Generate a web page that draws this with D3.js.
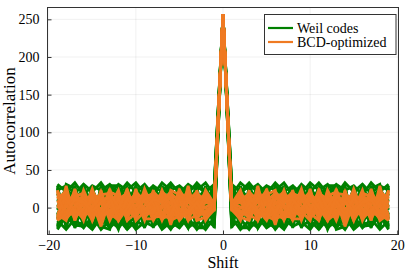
<!DOCTYPE html>
<html><head><meta charset="utf-8">
<script src="https://cdn.jsdelivr.net/npm/d3@7"></script>
<style>body{margin:0;background:#fff}svg{display:block}text{font-family:"Liberation Serif","Times New Roman",serif;fill:#000}</style>
</head><body><svg id="c" width="407" height="271"></svg>
<script>
// Shift axis (categories)
const shifts = [-19,-18,-17,-16,-15,-14,-13,-12,-11,-10,-9,-8,-7,-6,-5,-4,-3,-2,-1,0,1,2,3,4,5,6,7,8,9,10,11,12,13,14,15,16,17,18,19];
// Weil codes autocorrelation (estimated)
const weil1  = [31,21,33,17,29,23,31,19,33,21,31,17,33,23,29,19,33,21,31,257,31,21,33,19,29,23,33,17,31,21,33,19,31,23,29,17,33,21,31];
const weil2  = [23,29,19,31,21,33,17,31,23,33,19,29,21,33,19,31,23,33,17,257,17,33,23,31,19,33,21,29,19,33,23,31,17,33,21,31,19,29,23];
const weil3  = [-29,-11,-25,-19,-29,-13,-27,-15,-29,-17,-25,-11,-29,-19,-27,-13,-29,-15,-25,257,-25,-15,-29,-13,-27,-19,-29,-11,-25,-17,-29,-15,-27,-13,-29,-19,-25,-11,-29];
const weil4  = [-17,-29,-15,-27,-11,-29,-17,-27,-13,-29,-19,-25,-15,-29,-11,-27,-17,-29,-13,257,-13,-29,-17,-27,-11,-29,-15,-25,-19,-29,-13,-27,-17,-29,-11,-27,-15,-29,-17];
const weil5  = [27,-17,23,5,-19,27,9,-21,25,3,-15,27,11,-23,-9,25,-21,5,27,257,27,5,-21,25,-9,-23,11,27,-15,3,25,-21,9,27,-19,5,23,-17,27];
const weil6  = [-3,27,7,-23,25,-7,27,17,-23,-11,27,13,-19,3,27,-23,11,25,-9,257,-9,25,11,-23,27,3,-19,13,27,-11,-23,17,27,-7,25,-23,7,27,-3];
const weil7  = [19,-21,-5,27,-21,-1,25,-23,9,25,1,-21,27,17,-21,5,27,-23,9,257,9,-23,27,5,-21,17,27,-21,1,25,9,-23,25,-1,-21,27,-5,-21,19];
const weil8  = [-23,9,27,-3,11,-23,-13,27,15,-23,23,-9,3,-25,13,27,-5,9,-21,257,-21,9,-5,27,13,-25,3,-9,23,-23,15,27,-13,-23,11,-3,27,9,-23];
const weil9  = [1,25,-21,19,-25,13,23,5,-19,13,-23,23,-11,11,25,-21,7,-17,25,257,25,-17,7,-21,25,11,-11,23,-23,13,-19,5,23,13,-25,19,-21,25,1];
const weil10 = [13,3,-11,25,3,17,-21,-11,-3,27,11,5,-25,27,-3,9,-25,27,3,257,3,27,-25,9,-3,27,-25,5,11,27,-3,-11,-21,17,3,25,-11,3,13];
const weil11 = [25,-25,13,-13,27,-17,-1,9,21,-19,-7,-15,25,-13,21,-11,15,-3,-17,257,-17,-3,15,-11,21,-13,25,-15,-7,-19,21,9,-1,-17,27,-13,13,-25,25];
const weil12 = [-11,15,-27,9,-15,3,-25,23,-5,7,-27,19,-3,7,-23,13,-11,15,1,257,1,15,-11,13,-23,7,-3,19,-27,7,-5,23,-25,3,-15,9,-27,15,-11];
const weil13 = [-25,1,29,-15,7,-9,19,-27,11,-5,29,-17,5,19,-27,15,-1,-9,21,257,21,-9,-1,15,-27,19,5,-17,29,-5,11,-27,19,-9,7,-15,29,1,-25];
const weil14 = [11,-9,-19,-7,19,-27,13,-1,-25,19,-13,11,-27,-9,23,1,-13,29,-19,257,-19,29,-13,1,23,-9,-27,11,-13,19,-25,-1,13,-27,19,-7,-19,-9,11];
const weil15 = [-27,11,-3,31,-5,21,-11,-5,29,-27,7,-3,15,29,-5,-27,19,-25,11,257,11,-25,19,-27,-5,29,15,-3,7,-27,29,-5,-11,21,-5,31,-3,11,-27];
const weil16 = [29,-27,17,-17,-27,-3,5,25,-9,11,-9,29,-23,-21,5,23,29,19,-5,257,-5,19,29,23,5,-21,-23,29,-9,11,-9,25,5,-3,-27,-17,17,-27,29];
const weil17 = [-9,19,-23,-25,13,9,29,29,-21,-21,17,-27,27,21,15,-5,-19,7,29,257,29,7,-19,-5,15,21,27,-27,17,-21,-21,29,29,9,13,-25,-23,19,-9];
const weil18 = [5,-3,1,29,-23,25,-3,-29,5,29,-17,1,-7,-27,-19,29,3,13,-27,257,-27,13,3,29,-19,-27,-7,1,-17,29,5,-29,-3,25,-23,29,1,-3,5];
const weil19 = [-15,31,25,-9,29,-25,-29,13,27,-1,29,-25,29,1,9,-19,-27,-27,15,257,15,-27,-27,-19,9,1,29,-25,29,-1,27,13,-29,-25,29,-9,25,31,-15];
const weil20 = [-21,-13,-15,7,-29,29,15,1,-29,17,-1,-19,-9,-15,29,-1,29,21,-23,257,-23,21,29,-1,29,-15,-9,-19,-1,17,-29,1,15,29,-29,7,-15,-13,-21];
// BCD-optimized autocorrelation (estimated)
const bcd1  = [-15,29,-17,21,-13,23,-15,21,-17,25,-15,23,-13,21,-17,29,-15,23,5,257,5,23,-15,29,-17,21,-13,23,-15,25,-17,21,-15,23,-13,21,-17,29,-15];
const bcd2  = [23,-13,25,-15,23,-17,25,-13,21,-15,23,-17,21,-13,25,-15,23,-17,1,257,1,-17,23,-15,25,-13,21,-17,23,-15,21,-13,25,-17,23,-15,25,-13,23];
const bcd3  = [21,-5,-11,17,7,-25,11,-17,5,19,-11,3,17,-23,13,-17,-9,19,-3,257,-3,19,-9,-17,13,-23,17,3,-11,19,5,-17,11,-25,7,17,-11,-5,21];
const bcd4  = [-9,-17,21,3,-17,15,1,23,-17,-7,19,-15,-1,17,-15,9,21,-13,3,257,3,-13,21,9,-15,17,-1,-15,19,-7,-17,23,1,15,-17,3,21,-17,-9];
const bcd5  = [-17,13,9,-17,21,5,-13,-9,25,-17,-5,13,-17,9,3,23,-17,11,7,257,7,11,-17,23,3,9,-17,13,-5,-17,25,-9,-13,5,21,-17,9,13,-17];
const bcd6  = [7,19,-15,23,-3,-11,21,15,-9,3,17,-11,23,-5,21,-13,13,-9,-1,257,-1,-9,13,-13,21,-5,23,-11,17,3,-9,15,21,-11,-3,23,-15,19,7];
const bcd7  = [23,-15,-1,9,-15,19,-7,-17,15,11,-17,21,9,-17,-11,17,1,21,3,257,3,21,1,17,-11,-17,9,21,-17,11,15,-17,-7,19,-15,9,-1,-15,23];
const bcd8  = [-13,5,19,-13,17,13,-17,7,1,-13,25,-3,-15,23,17,1,-13,-5,5,257,5,-5,-13,1,17,23,-15,-3,25,-13,1,7,-17,13,17,-13,19,5,-13];
const bcd9  = [1,23,-17,11,1,-15,17,-3,-11,21,9,-17,5,13,-1,-11,9,15,-1,257,-1,15,9,-11,-1,13,5,-17,9,21,-11,-3,17,-15,1,11,-17,23,1];
const bcd10 = [15,-9,13,-5,25,-9,-5,11,19,-3,-9,9,19,-11,-7,13,17,-15,1,257,1,-15,17,13,-7,-11,19,9,-9,-3,19,11,-5,-9,25,-5,13,-9,15];
const bcd11 = [-5,-11,1,15,-11,-1,7,19,-5,-11,3,17,-7,1,9,-5,-7,7,3,257,3,7,-7,-5,9,1,-7,17,3,-11,-5,19,7,-1,-11,15,1,-11,-5];
const bcd12 = [-1,9,5,-9,-7,9,13,-7,9,7,-1,-9,13,5,-13,19,5,-1,-3,257,-3,-1,5,19,-13,5,13,-9,-1,7,9,-7,13,9,-7,-9,5,9,-1];
const bcd13 = [9,-7,23,-13,19,-17,3,-13,13,-9,21,-13,-11,19,9,-17,11,-11,7,257,7,-11,11,-17,9,19,-11,-13,21,-9,13,-13,3,-17,19,-13,23,-7,9];
const bcd14 = [-11,17,-9,5,-9,21,-11,9,-13,15,-13,-1,15,-7,-13,21,-5,17,-3,257,-3,17,-5,21,-13,-7,15,-1,-13,15,-13,9,-11,21,-9,5,-9,17,-11];
const bcd15 = [19,-13,-3,-15,11,-3,23,-11,5,-15,13,19,-9,-15,23,7,-3,-7,5,257,5,-7,-3,7,23,-15,-9,19,13,-15,5,-11,23,-3,11,-15,-3,-13,19];
const bcd16 = [-13,1,15,19,-17,11,-9,13,-15,23,-15,-15,3,15,-5,-15,19,9,1,257,1,9,19,-15,-5,15,3,-15,-15,23,-15,13,-9,11,-17,19,15,1,-13];
const bcd17 = [13,21,-13,-1,13,-9,9,-15,11,1,21,5,-11,-13,11,13,-17,-13,-1,257,-1,-13,-17,13,11,-13,-11,5,21,1,11,-15,9,-9,13,-1,-13,21,13];
const bcd18 = [-7,-15,3,11,-1,17,19,1,-9,13,-7,-7,21,11,-17,-3,15,13,3,257,3,13,15,-3,-17,11,21,-7,-7,13,-9,1,19,17,-1,11,3,-15,-7];
const bcd19 = [17,11,-5,-11,15,-13,-3,-1,23,-5,11,15,-15,-9,15,11,-1,1,5,257,5,1,-1,11,15,-9,-15,15,11,-5,23,-1,-3,-13,15,-11,-5,11,17];
const bcd20 = [-17,-9,11,7,-5,7,15,-17,-1,17,-3,11,7,21,-9,-7,7,-15,-3,257,-3,-15,7,-7,-9,21,7,11,-3,17,-1,-17,15,7,-5,7,11,-9,-17];

const xTicks = [-20,-10,0,10,20];
const yTicks = [0,50,100,150,200,250];
const seriesNames = ["Weil codes","BCD-optimized"];

const weilSeries = [weil1,weil2,weil3,weil4,weil5,weil6,weil7,weil8,weil9,weil10,weil11,weil12,weil13,weil14,weil15,weil16,weil17,weil18,weil19,weil20];
const bcdSeries = [bcd1,bcd2,bcd3,bcd4,bcd5,bcd6,bcd7,bcd8,bcd9,bcd10,bcd11,bcd12,bcd13,bcd14,bcd15,bcd16,bcd17,bcd18,bcd19,bcd20];
const colors = ["#008000","#ef7a22"];

const svg = d3.select("#c");
const L = 47.5, R = 398.5, T = 7.5, B = 234.5;
const x = d3.scaleLinear().domain([-20.14, 20.14]).range([L, R]);
const y = d3.scaleLinear().domain([-35.7, 265.7]).range([B, T]);

// grid
const g = svg.append("g");
g.selectAll("line.gx").data(xTicks).join("line")
  .attr("x1", d => x(d)).attr("x2", d => x(d)).attr("y1", T).attr("y2", B)
  .attr("stroke", "#000").attr("stroke-opacity", 0.1).attr("stroke-width", 0.6);
g.selectAll("line.gy").data(yTicks).join("line")
  .attr("y1", d => y(d)).attr("y2", d => y(d)).attr("x1", L).attr("x2", R)
  .attr("stroke", "#000").attr("stroke-opacity", 0.1).attr("stroke-width", 0.6);

svg.append("clipPath").attr("id", "clip").append("rect")
  .attr("x", L).attr("y", T).attr("width", R - L).attr("height", B - T);

const line = d3.line().x((d, i) => x(shifts[i])).y(d => y(d));
const plot = svg.append("g").attr("clip-path", "url(#clip)");
[weilSeries, bcdSeries].forEach((set, si) => {
  plot.append("g").selectAll("path").data(set).join("path")
    .attr("d", d => line(d))
    .attr("fill", "none").attr("stroke", colors[si]).attr("stroke-width", 2.8)
    .attr("stroke-linejoin", "miter").attr("stroke-miterlimit", 3);
});

// axes
const xAxis = d3.axisBottom(x).tickValues(xTicks).tickSize(-4).tickPadding(6)
  .tickFormat(d => d < 0 ? "\u2212" + Math.abs(d) : d);
const yAxis = d3.axisLeft(y).tickValues(yTicks).tickSize(-4).tickPadding(8);
const ax = svg.append("g").attr("transform", `translate(0,${B})`).call(xAxis);
const ay = svg.append("g").attr("transform", `translate(${L},0)`).call(yAxis);
[ax, ay].forEach(a => {
  a.select(".domain").remove();
  a.selectAll(".tick line").attr("stroke", "#333").attr("stroke-width", 1);
  a.selectAll("text").attr("font-family", "Liberation Serif").attr("font-size", 14).attr("fill", "#000");
});
// frame
svg.append("rect").attr("x", L).attr("y", T).attr("width", R - L).attr("height", B - T)
  .attr("fill", "none").attr("stroke", "#333").attr("stroke-width", 1);

svg.append("text").attr("x", (L + R) / 2).attr("y", 268).attr("text-anchor", "middle")
  .attr("font-size", 16).text("Shift");
svg.append("text").attr("transform", `translate(15,${(T + B) / 2}) rotate(-90)`)
  .attr("text-anchor", "middle").attr("font-size", 17).text("Autocorrelation");

// legend
const lg = svg.append("g");
lg.append("rect").attr("x", 264.5).attr("y", 14.5).attr("width", 131.5).attr("height", 40)
  .attr("fill", "#fff").attr("stroke", "#333").attr("stroke-width", 1);
seriesNames.forEach((n, i) => {
  const yy = 28 + i * 14;
  lg.append("line").attr("x1", 268).attr("x2", 293).attr("y1", yy).attr("y2", yy)
    .attr("stroke", colors[i]).attr("stroke-width", 2.2);
  lg.append("text").attr("x", 297).attr("y", yy + 4.5).attr("font-size", 14).text(n);
});
</script></body></html>
